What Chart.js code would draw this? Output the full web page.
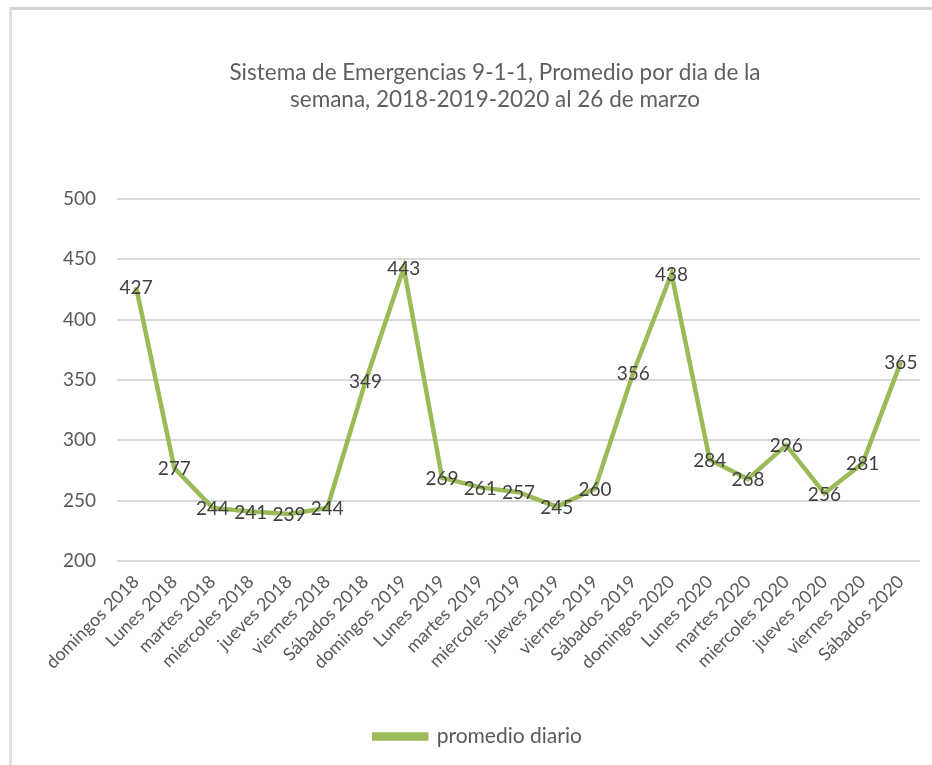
<!DOCTYPE html>
<html>
<head>
<meta charset="utf-8">
<script src="https://cdn.jsdelivr.net/npm/chart.js@4.4.0/dist/chart.umd.min.js"></script>
<style>
  html, body { margin: 0; padding: 0; background: #fff; }
  #wrap { position: relative; width: 932px; height: 765px; overflow: hidden; }
  #frame { position: absolute; left: 9px; top: 7px; width: 960px; height: 800px;
           border-top: 3px solid #d4d4d4; border-left: 3px solid #e0e0e0; }
  #chart { position: absolute; left: 0; top: 0; }
</style>
</head>
<body>
<div id="wrap">
  <div id="frame"></div>
  <canvas id="chart" width="932" height="765"></canvas>
</div>
<script>
const titleLines = ['Sistema de Emergencias 9-1-1, Promedio por dia de la', 'semana, 2018-2019-2020 al 26 de marzo'];
const days = ['domingos 2018', 'Lunes 2018', 'martes 2018', 'miercoles 2018', 'jueves 2018', 'viernes 2018', 'Sábados 2018',
  'domingos 2019', 'Lunes 2019', 'martes 2019', 'miercoles 2019', 'jueves 2019', 'viernes 2019', 'Sábados 2019',
  'domingos 2020', 'Lunes 2020', 'martes 2020', 'miercoles 2020', 'jueves 2020', 'viernes 2020', 'Sábados 2020'];
const promedio = [427, 277, 244, 241, 239, 244, 349, 443, 269, 261, 257, 245, 260, 356, 438, 284, 268, 296, 256, 281, 365];
const seriesName = 'promedio diario';
const yTicks = [200, 250, 300, 350, 400, 450, 500];

const fontFam = 'Lato, "Open Sans", sans-serif';

// title sits a bit right of the canvas centre in the original
const chartTitle = {
  id: 'chartTitle',
  afterDraw(chart) {
    const ctx = chart.ctx;
    ctx.save();
    ctx.font = '22.5px ' + fontFam;
    ctx.fillStyle = '#5f5f5f';
    ctx.textAlign = 'center';
    ctx.textBaseline = 'middle';
    titleLines.forEach((line, i) => ctx.fillText(line, 495, 73 + i * 27));
    ctx.restore();
  }
};

// labels centred on each point, like Excel "center"
const pointLabels = {
  id: 'pointLabels',
  afterDatasetsDraw(chart) {
    const ctx = chart.ctx;
    const meta = chart.getDatasetMeta(0);
    ctx.save();
    ctx.font = '19px ' + fontFam;
    ctx.fillStyle = '#404040';
    ctx.textAlign = 'center';
    ctx.textBaseline = 'middle';
    meta.data.forEach((pt, i) => {
      ctx.fillText(String(promedio[i]), pt.x, pt.y + 1);
    });
    ctx.restore();
  }
};

const graph = document.getElementById('chart').getContext('2d');
const lineChart = new Chart(graph, {
  type: 'line',
  data: {
    labels: days,
    datasets: [{
      label: seriesName,
      data: promedio,
      borderColor: '#9bbb59',
      backgroundColor: '#9bbb59',
      borderWidth: 4.5,
      pointRadius: 0,
      tension: 0
    }]
  },
  options: {
    responsive: false,
    animation: false,
    layout: { padding: { left: 36, right: 12, top: 199, bottom: 8 } },
    plugins: {
      title: { display: false },
      legend: {
        position: 'bottom',
        labels: {
          boxWidth: 52,
          boxHeight: 4,
          color: '#595959',
          font: { family: fontFam, size: 21 },
          padding: 10
        }
      },
      tooltip: { enabled: false }
    },
    scales: {
      x: {
        offset: true,
        grid: { display: false },
        border: { display: false },
        ticks: {
          autoSkip: false,
          minRotation: 45,
          maxRotation: 45,
          color: '#595959',
          padding: 2,
          font: { family: fontFam, size: 18 }
        },
        afterFit: (scale) => { scale.height = 155; }
      },
      y: {
        min: 200,
        max: 500,
        afterBuildTicks: (scale) => { scale.ticks = yTicks.map(v => ({ value: v })); },
        grid: { color: '#d9d9d9', lineWidth: 2, drawTicks: false },
        border: { display: false },
        ticks: {
          color: '#595959',
          padding: 21,
          font: { family: fontFam, size: 19 }
        },
        afterFit: (scale) => { scale.width = 81; }
      }
    }
  },
  plugins: [pointLabels, chartTitle]
});
</script>
</body>
</html>
